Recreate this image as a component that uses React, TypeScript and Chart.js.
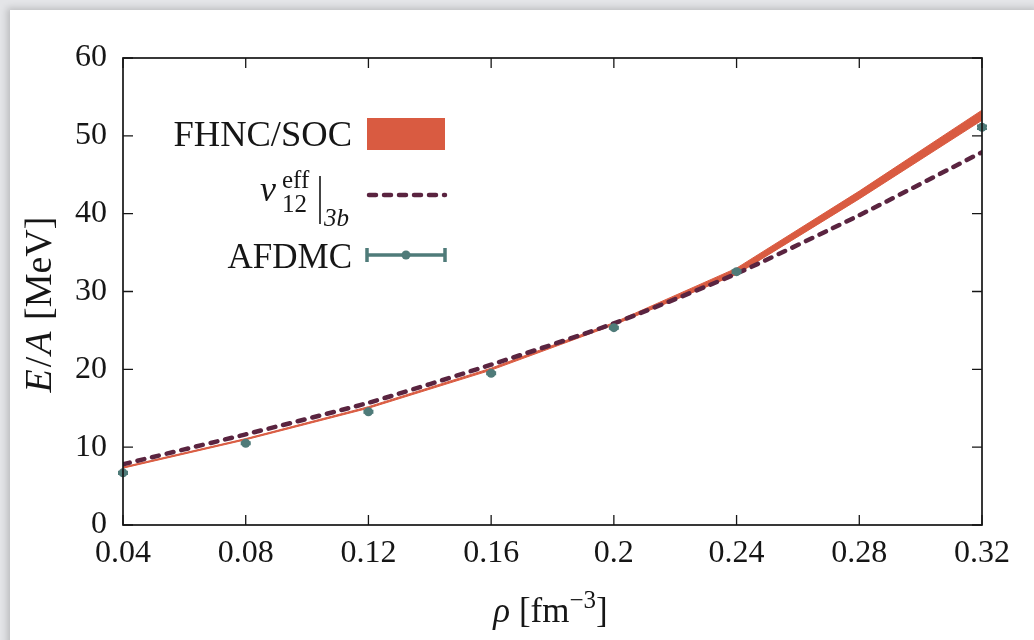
import React, { useEffect, useRef } from "react";
import { Chart, registerables } from "chart.js";

Chart.register(...registerables);

// ---------- data ----------
const densities = [0.04, 0.08, 0.12, 0.16, 0.2, 0.24, 0.28, 0.32];
const fhncUpper = [7.45, 11.1, 15.2, 20.15, 26.0, 33.0, 42.9, 53.3];
const fhncLower = [7.3, 10.95, 15.0, 19.9, 25.7, 32.2, 41.9, 52.0];
const v12Values = [7.8, 11.65, 15.7, 20.6, 25.9, 32.3, 39.8, 47.9];
const afdmcDensities = [0.04, 0.08, 0.12, 0.16, 0.2, 0.24, 0.32];
const afdmcValues = [6.7, 10.5, 14.55, 19.5, 25.35, 32.55, 51.1];
const afdmcErrors = [0.1, 0.1, 0.1, 0.1, 0.1, 0.15, 0.2];
const xTicks = [0.04, 0.08, 0.12, 0.16, 0.2, 0.24, 0.28, 0.32];
const yTicks = [0, 10, 20, 30, 40, 50, 60];

const RED = "#d95b41";
const PLUM = "#5a2440";
const TEAL = "#4f7b79";
const INK = "#161616";
const SERIF = "'Liberation Serif', 'DejaVu Serif', serif";

const toXY = (xs: number[], ys: number[]) => xs.map((x, i) => ({ x, y: ys[i] }));

const decorPlugin = {
  id: "decor",
  afterDatasetsDraw(chart: any) {
    const { ctx, chartArea: a, scales } = chart;
    const x = scales.x;
    const y = scales.y;
    ctx.save();
    // error bars for AFDMC
    ctx.strokeStyle = TEAL;
    ctx.lineWidth = 2.5;
    afdmcDensities.forEach((d, i) => {
      const px = x.getPixelForValue(d);
      const top = y.getPixelForValue(afdmcValues[i] + afdmcErrors[i]);
      const bot = y.getPixelForValue(afdmcValues[i] - afdmcErrors[i]);
      ctx.beginPath();
      ctx.moveTo(px, top);
      ctx.lineTo(px, bot);
      ctx.moveTo(px - 5, top);
      ctx.lineTo(px + 5, top);
      ctx.moveTo(px - 5, bot);
      ctx.lineTo(px + 5, bot);
      ctx.stroke();
    });
    // frame
    ctx.strokeStyle = INK;
    ctx.lineWidth = 1.7;
    ctx.strokeRect(a.left, a.top, a.right - a.left, a.bottom - a.top);
    // inward ticks on all sides
    ctx.lineWidth = 1.3;
    const tl = 10;
    ctx.beginPath();
    xTicks.forEach((v) => {
      const px = x.getPixelForValue(v);
      ctx.moveTo(px, a.bottom);
      ctx.lineTo(px, a.bottom - tl);
      ctx.moveTo(px, a.top);
      ctx.lineTo(px, a.top + tl);
    });
    yTicks.forEach((v) => {
      const py = y.getPixelForValue(v);
      ctx.moveTo(a.left, py);
      ctx.lineTo(a.left + tl, py);
      ctx.moveTo(a.right, py);
      ctx.lineTo(a.right - tl, py);
    });
    ctx.stroke();
    ctx.restore();
  },
  afterDraw(chart: any) {
    const { ctx, chartArea: a } = chart;
    ctx.save();
    ctx.fillStyle = INK;
    ctx.textBaseline = "alphabetic";

    // ---- y axis title (rotated) ----
    ctx.save();
    ctx.translate(41, (a.top + a.bottom) / 2 + 12);
    ctx.rotate(-Math.PI / 2);
    const parts: [string, string][] = [
      ["E", `italic 38px ${SERIF}`],
      ["/", `38px ${SERIF}`],
      ["A", `italic 38px ${SERIF}`],
      [" [MeV]", `38px ${SERIF}`],
    ];
    const gap = 2;
    let total = 0;
    parts.forEach(([t, f]) => {
      ctx.font = f;
      total += ctx.measureText(t).width + gap;
    });
    let cx = -total / 2;
    parts.forEach(([t, f]) => {
      ctx.font = f;
      ctx.textAlign = "left";
      ctx.fillText(t, cx, 0);
      cx += ctx.measureText(t).width + gap;
    });
    ctx.restore();

    // ---- x axis title ----
    const xc = (a.left + a.right) / 2 - 2;
    const base = 612;
    const xParts: [string, string, number][] = [
      ["ρ", `italic 35px ${SERIF}`, 0],
      [" [fm", `35px ${SERIF}`, 0],
      ["−3", `25px ${SERIF}`, -14],
      ["]", `35px ${SERIF}`, 0],
    ];
    let xt = 0;
    xParts.forEach(([t, f]) => {
      ctx.font = f;
      xt += ctx.measureText(t).width;
    });
    let xx = xc - xt / 2;
    xParts.forEach(([t, f, dy]) => {
      ctx.font = f;
      ctx.textAlign = "left";
      ctx.fillText(t, xx, base + dy);
      xx += ctx.measureText(t).width;
    });

    // ---- legend ----
    const right = 342;
    const s0 = 357;
    const s1 = 435;
    ctx.font = `36.5px ${SERIF}`;
    ctx.textAlign = "right";
    ctx.fillText("FHNC/SOC", right, 136);
    ctx.font = `35px ${SERIF}`;
    ctx.fillText("AFDMC", right, 258);

    ctx.fillStyle = RED;
    ctx.fillRect(s0, 108, s1 - s0, 32);

    // v_12^eff |_3b
    ctx.fillStyle = INK;
    ctx.textAlign = "left";
    ctx.font = `italic 36px ${SERIF}`;
    ctx.fillText("v", 250, 191);
    ctx.font = `25px ${SERIF}`;
    ctx.fillText("eff", 272, 178);
    ctx.fillText("12", 272, 202);
    ctx.strokeStyle = INK;
    ctx.lineWidth = 1.6;
    ctx.beginPath();
    ctx.moveTo(310, 166);
    ctx.lineTo(310, 214);
    ctx.stroke();
    ctx.font = `italic 25px ${SERIF}`;
    ctx.fillText("3b", 314, 216);

    // dashed sample
    ctx.strokeStyle = PLUM;
    ctx.lineWidth = 4.5;
    ctx.lineCap = "round";
    ctx.setLineDash([7, 8]);
    ctx.beginPath();
    ctx.moveTo(s0 + 2, 185);
    ctx.lineTo(s1, 185);
    ctx.stroke();
    ctx.setLineDash([]);

    // AFDMC sample
    ctx.strokeStyle = TEAL;
    ctx.lineWidth = 3.5;
    ctx.lineCap = "butt";
    ctx.beginPath();
    ctx.moveTo(s0, 245);
    ctx.lineTo(s1, 245);
    ctx.moveTo(s0, 238);
    ctx.lineTo(s0, 252);
    ctx.moveTo(s1, 238);
    ctx.lineTo(s1, 252);
    ctx.stroke();
    ctx.fillStyle = TEAL;
    ctx.beginPath();
    ctx.arc((s0 + s1) / 2, 245, 4.5, 0, Math.PI * 2);
    ctx.fill();

    ctx.restore();
  },
};

export default function App() {
  const ref = useRef<HTMLCanvasElement>(null);

  useEffect(() => {
    const canvas = ref.current;
    if (!canvas) return;
    const chart = new Chart(canvas, {
      type: "line",
      data: {
        datasets: [
          {
            label: "AFDMC",
            data: toXY(afdmcDensities, afdmcValues),
            showLine: false,
            pointRadius: 4.5,
            pointBackgroundColor: TEAL,
            pointBorderWidth: 0,
            borderColor: TEAL,
            clip: false,
            order: 0,
          },
          {
            label: "v12eff|3b",
            data: toXY(densities, v12Values),
            borderColor: PLUM,
            borderWidth: 4.5,
            borderDash: [7, 8],
            borderCapStyle: "round",
            pointRadius: 0,
            fill: false,
            tension: 0.2,
            order: 1,
          },
          {
            label: "FHNC/SOC upper",
            data: toXY(densities, fhncUpper),
            borderColor: RED,
            borderWidth: 1,
            backgroundColor: RED,
            pointRadius: 0,
            fill: "+1",
            order: 2,
          },
          {
            label: "FHNC/SOC lower",
            data: toXY(densities, fhncLower),
            borderColor: RED,
            borderWidth: 1,
            pointRadius: 0,
            fill: false,
            order: 3,
          },
        ],
      },
      options: {
        responsive: false,
        animation: false,
        devicePixelRatio: 1,
        layout: { padding: { left: 0, top: 48, right: 52, bottom: 0 } },
        plugins: { legend: { display: false }, tooltip: { enabled: false } },
        scales: {
          x: {
            type: "linear",
            min: 0.04,
            max: 0.32,
            afterBuildTicks: (s: any) => {
              s.ticks = xTicks.map((v) => ({ value: v }));
            },
            afterFit: (s: any) => {
              s.height = 115;
            },
            grid: { display: false, drawTicks: false },
            border: { display: false },
            ticks: {
              padding: 9,
              color: INK,
              font: { family: SERIF, size: 32 },
              maxRotation: 0,
              autoSkip: false,
              callback: (v: any) => String(Number(Number(v).toFixed(2))),
            },
          },
          y: {
            type: "linear",
            min: 0,
            max: 60,
            afterBuildTicks: (s: any) => {
              s.ticks = yTicks.map((v) => ({ value: v }));
            },
            afterFit: (s: any) => {
              s.width = 113;
            },
            grid: { display: false, drawTicks: false },
            border: { display: false },
            ticks: {
              padding: 16,
              color: INK,
              font: { family: SERIF, size: 32 },
              autoSkip: false,
              callback: (v: any) => String(v),
            },
          },
        },
      },
      plugins: [decorPlugin],
    } as any);
    return () => chart.destroy();
  }, []);

  return (
    <div style={{ position: "fixed", inset: 0, background: "#e4e5e8", overflow: "hidden" }}>
      <div
        style={{
          position: "absolute",
          left: 10,
          top: 10,
          width: 1030,
          height: 640,
          background: "#ffffff",
          boxShadow: "-3px -2px 7px rgba(0,0,0,0.18)",
        }}
      >
        <canvas ref={ref} width={1024} height={630} style={{ display: "block", width: 1024, height: 630 }} />
      </div>
    </div>
  );
}
